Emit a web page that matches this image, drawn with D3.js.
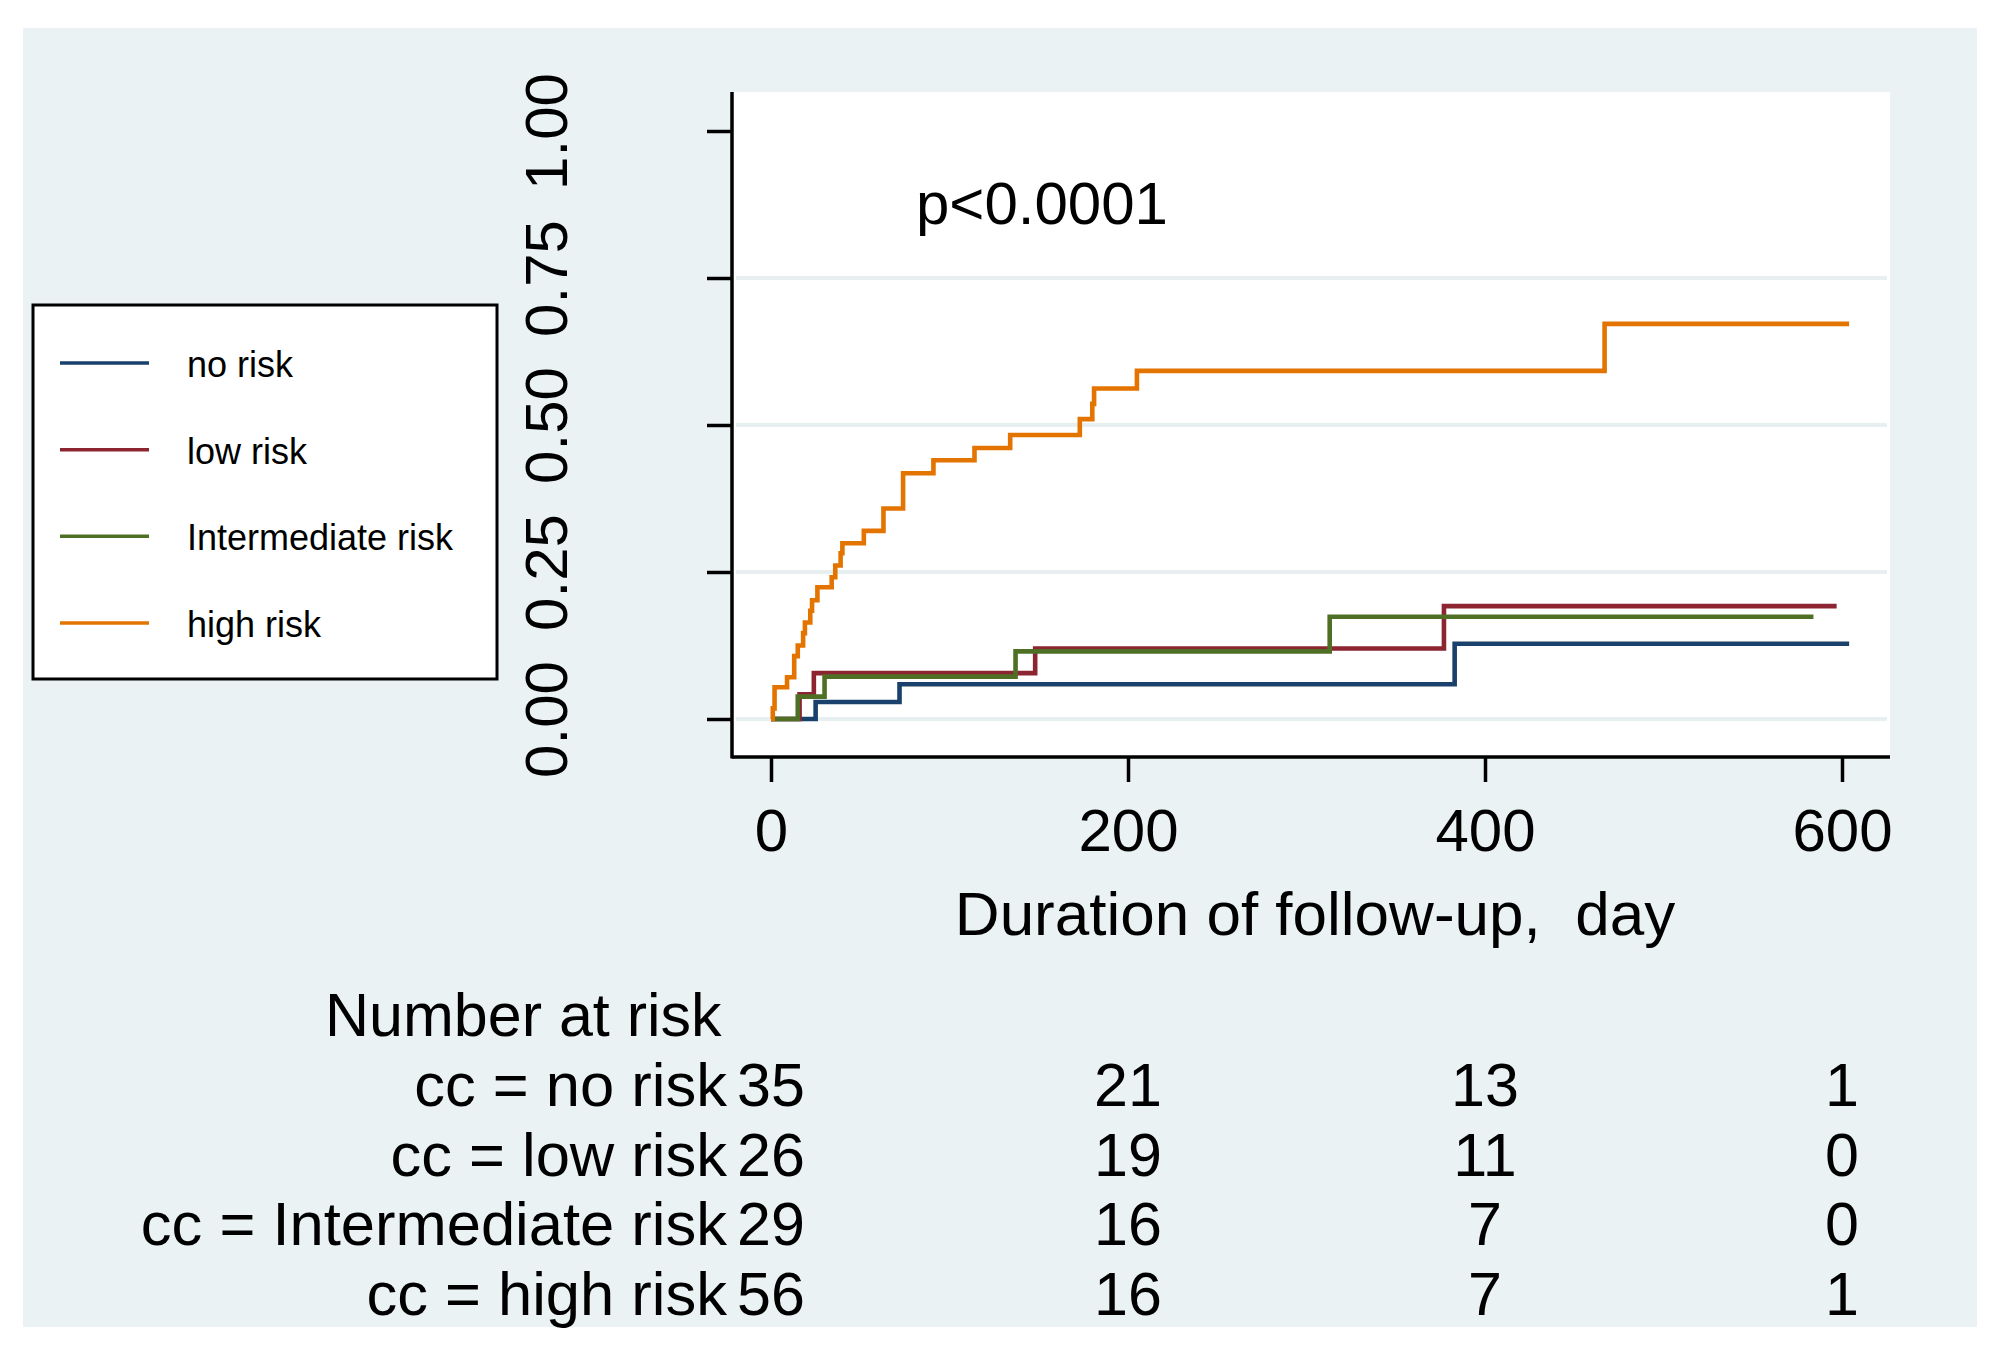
<!DOCTYPE html>
<html>
<head>
<meta charset="utf-8">
<script src="https://cdn.jsdelivr.net/npm/d3@7"></script>
<style>
  body { margin: 0; background: #ffffff; }
  text { font-family: "Liberation Sans", Arial, sans-serif; fill: #000000; }
</style>
</head>
<body>
<div id="chart"></div>
<script>

// Cumulative failure (time in days, failure 0-1)
var noRiskTime = [0, 25, 72, 383, 604];
var noRiskFail = [0, 0.029, 0.059, 0.128, 0.128];

var lowRiskTime = [0, 16, 24, 148, 377, 597];
var lowRiskFail = [0, 0.042, 0.078, 0.120, 0.192, 0.192];

var intRiskTime = [0, 15, 30, 137, 313, 584];
var intRiskFail = [0, 0.038, 0.072, 0.115, 0.174, 0.174];

var highRiskTime = [0, 1, 2, 9, 13, 15, 18, 19, 22, 23, 26, 34, 36, 39, 40, 52, 63, 74, 91, 114, 134, 173, 180, 181, 205, 467, 604];
var highRiskFail = [0, 0.018, 0.054, 0.071, 0.107, 0.125, 0.146, 0.164, 0.184, 0.202, 0.224, 0.241, 0.261, 0.282, 0.299, 0.320, 0.358, 0.418, 0.440, 0.461, 0.483, 0.510, 0.536, 0.562, 0.592, 0.672, 0.672];

var groupNames = ["no risk", "low risk", "Intermediate risk", "high risk"];
var groupColors = ["#1a406c", "#8c2531", "#4f7024", "#e47400"];

// x and y ticks
var xTicks = [0, 200, 400, 600];
var yTicks = [0, 0.25, 0.5, 0.75, 1];
var yGrid = [0, 0.25, 0.5, 0.75];

// number at risk table
var riskTimes = [0, 200, 400, 600];
var riskLabels = ["cc = no risk", "cc = low risk", "cc = Intermediate risk", "cc = high risk"];
var atRiskNo = [35, 21, 13, 1];
var atRiskLow = [26, 19, 11, 0];
var atRiskInt = [29, 16, 7, 0];
var atRiskHigh = [56, 16, 7, 1];

var pText = "p<0.0001";
var xTitle = "Duration of follow-up,  day";
var tableTitle = "Number at risk";

// svg sizes
var svgWidth = 2008;
var svgHeight = 1351;

var svg = d3.select("#chart")
  .append("svg")
  .attr("width", svgWidth)
  .attr("height", svgHeight);

// outer light panel
svg.append("rect")
  .attr("x", 23).attr("y", 28)
  .attr("width", 1954).attr("height", 1299)
  .attr("fill", "#eaf2f3");

// plot region
var plot = { left: 732, right: 1890, top: 92, bottom: 757 };

svg.append("rect")
  .attr("x", plot.left).attr("y", plot.top)
  .attr("width", plot.right - plot.left).attr("height", plot.bottom - plot.top)
  .attr("fill", "#ffffff");

var xScale = d3.scaleLinear().domain([0, 600]).range([771, 1842]);
var yScale = d3.scaleLinear().domain([0, 1]).range([719, 131]);

// gridlines
svg.append("g")
  .selectAll("line")
  .data(yGrid)
  .enter()
  .append("line")
  .attr("x1", plot.left + 4)
  .attr("x2", plot.right - 3)
  .attr("y1", d => yScale(d))
  .attr("y2", d => yScale(d))
  .attr("stroke", "#e7eff1")
  .attr("stroke-width", 4);

// the curves
var series = [
  { time: noRiskTime, fail: noRiskFail },
  { time: lowRiskTime, fail: lowRiskFail },
  { time: intRiskTime, fail: intRiskFail },
  { time: highRiskTime, fail: highRiskFail }
];

var stepLine = d3.line()
  .x(d => xScale(d[0]))
  .y(d => yScale(d[1]))
  .curve(d3.curveStepAfter);

series.forEach(function (s, i) {
  var pts = s.time.map((t, j) => [t, s.fail[j]]);
  svg.append("path")
    .datum(pts)
    .attr("fill", "none")
    .attr("stroke", groupColors[i])
    .attr("stroke-width", 4.6)
    .attr("stroke-linejoin", "miter")
    .attr("d", stepLine);
});

// axes
var xAxis = d3.axisBottom(xScale)
  .tickValues(xTicks)
  .tickSize(25)
  .tickPadding(26)
  .tickFormat(d3.format("d"));

var xAxisG = svg.append("g")
  .attr("transform", `translate(0,${plot.bottom})`)
  .call(xAxis);
xAxisG.select(".domain").remove();
xAxisG.selectAll("line").attr("stroke", "#000").attr("stroke-width", 3.5);
xAxisG.selectAll("text")
  .attr("font-size", 60)
  .attr("font-family", "Liberation Sans, Arial, sans-serif")
  .attr("fill", "#000");

var yAxis = d3.axisLeft(yScale)
  .tickValues(yTicks)
  .tickSize(25)
  .tickFormat(d3.format(".2f"));

var yAxisG = svg.append("g")
  .attr("transform", `translate(${plot.left},0)`)
  .call(yAxis);
yAxisG.select(".domain").remove();
yAxisG.selectAll("line").attr("stroke", "#000").attr("stroke-width", 3.5);
yAxisG.selectAll("text")
  .attr("x", 0).attr("y", 0).attr("dy", 0)
  .attr("text-anchor", "middle")
  .attr("transform", "translate(-165,0) rotate(-90)")
  .attr("font-size", 60)
  .attr("font-family", "Liberation Sans, Arial, sans-serif")
  .attr("fill", "#000");

// axis lines
svg.append("line")
  .attr("x1", plot.left).attr("x2", plot.left)
  .attr("y1", plot.top).attr("y2", plot.bottom + 1.5)
  .attr("stroke", "#000").attr("stroke-width", 3.5);
svg.append("line")
  .attr("x1", plot.left).attr("x2", plot.right)
  .attr("y1", plot.bottom).attr("y2", plot.bottom)
  .attr("stroke", "#000").attr("stroke-width", 3.5);

// p value
svg.append("text")
  .attr("x", 916).attr("y", 224)
  .attr("font-size", 60)
  .text(pText);

// x axis title
svg.append("text")
  .attr("x", 1315).attr("y", 935)
  .attr("text-anchor", "middle")
  .attr("font-size", 62)
  .attr("xml:space", "preserve")
  .style("white-space", "pre")
  .text(xTitle);

// legend
var legend = svg.append("g");
legend.append("rect")
  .attr("x", 33).attr("y", 305)
  .attr("width", 464).attr("height", 374)
  .attr("fill", "#ffffff")
  .attr("stroke", "#000")
  .attr("stroke-width", 3);

var legendY = d3.scalePoint().domain(groupNames).range([363, 623]);

groupNames.forEach(function (name, i) {
  legend.append("line")
    .attr("x1", 60).attr("x2", 149)
    .attr("y1", legendY(name)).attr("y2", legendY(name))
    .attr("stroke", groupColors[i])
    .attr("stroke-width", 3.5);
  legend.append("text")
    .attr("x", 187).attr("y", legendY(name) + 14)
    .attr("font-size", 36)
    .text(name);
});

// number at risk table
svg.append("text")
  .attr("x", 325).attr("y", 1036)
  .attr("font-size", 61)
  .text(tableTitle);

var atRisk = [atRiskNo, atRiskLow, atRiskInt, atRiskHigh];
var rowY = d3.scalePoint().domain(riskLabels).range([1106, 1315]);

riskLabels.forEach(function (label, i) {
  svg.append("text")
    .attr("x", 727).attr("y", rowY(label))
    .attr("text-anchor", "end")
    .attr("font-size", 61.5)
    .text(label);
  svg.append("g")
    .selectAll("text")
    .data(atRisk[i])
    .enter()
    .append("text")
    .attr("x", (d, j) => xScale(riskTimes[j]))
    .attr("y", rowY(label))
    .attr("text-anchor", "middle")
    .attr("font-size", 61)
    .text(d => d);
});

</script>
</body>
</html>
